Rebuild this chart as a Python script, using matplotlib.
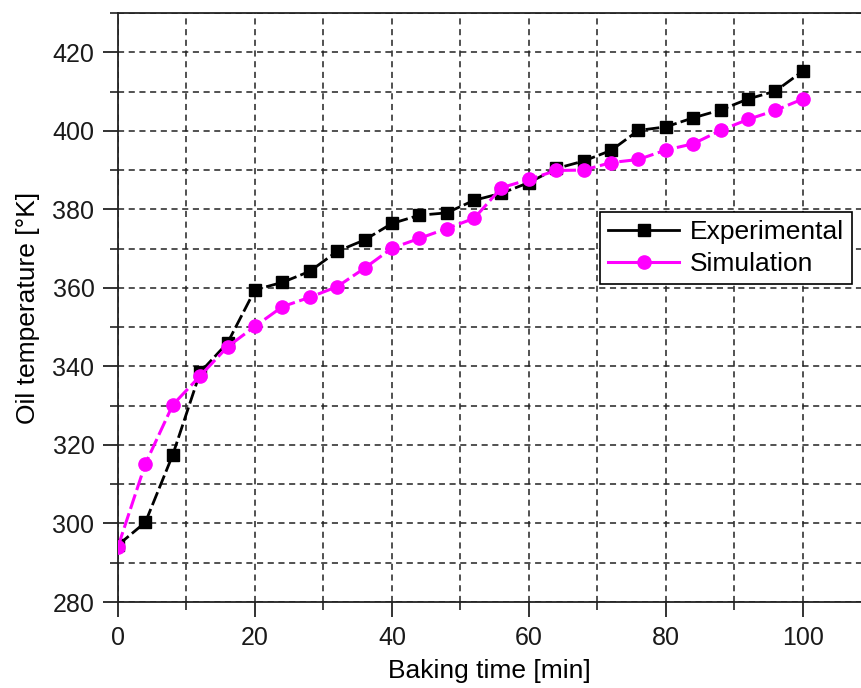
import matplotlib
matplotlib.use("Agg")
import matplotlib.pyplot as plt
from matplotlib.ticker import MultipleLocator

plt.rcParams['font.family'] = ['Liberation Sans', 'DejaVu Sans']

# Baking time [min]
time_min = [0, 4, 8, 12, 16, 20, 24, 28, 32, 36, 40, 44, 48, 52,
            56, 60, 64, 68, 72, 76, 80, 84, 88, 92, 96, 100]

# Oil temperature [K]
experimental = [294.5, 300.3, 317.5, 338.5, 346.0, 359.5, 361.4, 364.2, 369.3,
                372.2, 376.4, 378.5, 379.1, 382.3, 384.1, 386.8, 390.4, 392.3,
                395.0, 400.1, 401.0, 403.3, 405.3, 408.1, 410.1, 415.2]
simulation = [294.1, 315.2, 330.2, 337.6, 345.0, 350.2, 355.2, 357.6, 360.3,
              365.0, 370.1, 372.6, 375.1, 377.7, 385.5, 387.6, 389.9, 390.0,
              391.9, 392.7, 395.1, 396.7, 400.1, 402.9, 405.2, 408.1]

fig = plt.figure(figsize=(8.61, 6.88), dpi=100)
ax = fig.add_axes([118 / 861, 86 / 688, 1 - 118 / 861, (602 - 13) / 688])

line_dash = (0, (5, 1.5))
ax.plot(time_min, experimental, color='black', lw=2.0, linestyle=line_dash,
        marker='s', markersize=9, markerfacecolor='black',
        markeredgecolor='black', label='Experimental', zorder=3)
ax.plot(time_min, simulation, color='#FF00FF', lw=2.2, linestyle=line_dash,
        marker='o', markersize=9.5, markerfacecolor='#FF00FF',
        markeredgecolor='#FF00FF', label='Simulation', zorder=4)

ax.set_xlim(0, 108.5)
ax.set_ylim(280, 430)
ax.xaxis.set_major_locator(MultipleLocator(20))
ax.xaxis.set_minor_locator(MultipleLocator(10))
ax.yaxis.set_major_locator(MultipleLocator(20))
ax.yaxis.set_minor_locator(MultipleLocator(10))

ax.grid(True, which='both', color='#222222', linestyle=(0, (4, 3)), lw=1.1)
ax.set_axisbelow(True)

ax.spines['right'].set_visible(False)
for s in ('left', 'bottom', 'top'):
    ax.spines[s].set_linewidth(1.3)
    ax.spines[s].set_color('#222222')

ax.tick_params(which='major', direction='out', length=11, width=1.3,
               labelsize=18, colors='#222222', labelcolor='#1a1a1a', pad=6)
ax.tick_params(which='minor', direction='out', length=6, width=1.2,
               colors='#222222')

ax.set_xlabel('Baking time [min]', fontsize=19, labelpad=7)
ax.set_ylabel('Oil temperature [°K]', fontsize=19, labelpad=9)

leg = ax.legend(loc='upper left', bbox_to_anchor=(600 / 861, 1 - 212 / 688),
                bbox_transform=fig.transFigure, fontsize=19, frameon=True,
                fancybox=False, handlelength=2.7, borderpad=0.3,
                labelspacing=0.3, handletextpad=0.4, borderaxespad=0)
leg.get_frame().set_edgecolor('black')
leg.get_frame().set_linewidth(1.2)
leg.get_frame().set_alpha(1.0)
for h in leg.get_lines():
    h.set_linestyle('-')

fig.savefig('out.png', dpi=100)
